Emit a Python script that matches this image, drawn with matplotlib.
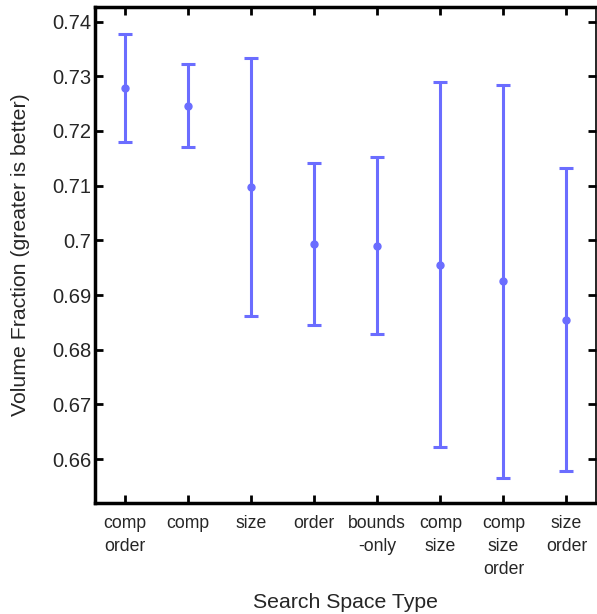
import matplotlib
matplotlib.use("Agg")
from matplotlib import pyplot
import numpy

FONT = {'family': ['Liberation Sans', 'DejaVu Sans'], 'size': 12.7}
matplotlib.rc('font', **FONT)

labels = ["comp\norder", "comp", "size", "order", "bounds\n-only",
          "comp\nsize", "comp\nsize\norder", "size\norder"]
means = [0.7278, 0.7246, 0.7097, 0.6994, 0.6990, 0.6955, 0.6925, 0.6855]
upper = [0.7378, 0.7323, 0.7333, 0.7142, 0.7153, 0.7290, 0.7284, 0.7132]
lower = [0.7179, 0.7171, 0.6862, 0.6846, 0.6829, 0.6622, 0.6566, 0.6578]

COL = '#6b6dff'
TXT = '#262626'

fig = pyplot.figure(figsize=(5.97, 6.14), dpi=100)
ax = fig.add_axes([0.159, 0.181, 0.8395, 0.808])

x = numpy.arange(1, len(means) + 1)
m = numpy.array(means)
err = [m - numpy.array(lower), numpy.array(upper) - m]
ax.errorbar(x, m, yerr=err, fmt='o', color=COL, ecolor=COL, markersize=5,
            elinewidth=2.2, capsize=5, capthick=2.2)

ax.set_xlim(0.52, 8.47)
ax.set_ylim(0.652, 0.7427)
ax.set_xticks(x)
ax.set_xticklabels(labels, linespacing=1.45, fontsize=12.7)
ax.set_yticks([0.66, 0.67, 0.68, 0.69, 0.70, 0.71, 0.72, 0.73, 0.74])
ax.set_yticklabels(['0.66', '0.67', '0.68', '0.69', '0.7', '0.71', '0.72', '0.73', '0.74'], fontsize=14.5)
ax.tick_params(direction='in', length=6, width=2, top=True, right=True,
               colors='black', labelcolor=TXT)
ax.tick_params(axis='x', pad=9)
ax.tick_params(axis='y', pad=2.5)
for side in ['left', 'bottom', 'top']:
	ax.spines[side].set_linewidth(2.5)
ax.spines['right'].set_linewidth(1.2)

ax.set_ylabel("Volume Fraction (greater is better)", fontsize=15.3, color=TXT, labelpad=16)
# x label sits well below the 3-line tick labels
fig.text(0.5 * (0.159 + 0.9985), 12.0 / 614, "Search Space Type", fontsize=15.3,
         color=TXT, ha='center', va='center')

fig.savefig('out.png', dpi=100)
